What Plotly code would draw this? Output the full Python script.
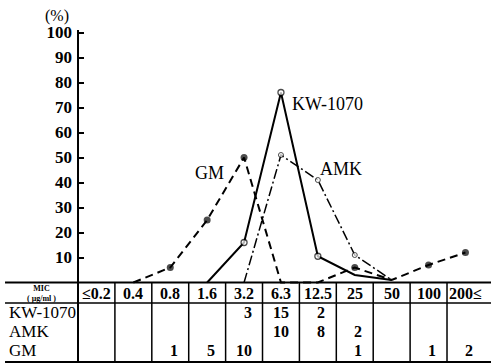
import plotly.graph_objects as go

# ---- data ----
categories = ["≤0.2", "0.4", "0.8", "1.6", "3.2", "6.3", "12.5", "25", "50", "100", "200≤"]

kw_cats = ["1.6", "3.2", "6.3", "12.5", "25", "50"]
kw_pct = [0, 16, 76, 10.5, 3, 1]

amk_cats = ["3.2", "6.3", "12.5", "25", "50"]
amk_pct = [0, 51, 41, 11, 1]

gm_cats = ["0.4", "0.8", "1.6", "3.2", "6.3", "12.5", "25", "50", "100", "200≤"]
gm_pct = [0, 6, 25, 50, 0, 0, 6, 1, 7, 12]

row_labels = ["KW-1070", "AMK", "GM"]
kw_counts = ["", "", "", "", "3", "15", "2", "", "", "", ""]
amk_counts = ["", "", "", "", "", "10", "8", "2", "", "", ""]
gm_counts = ["", "", "1", "5", "10", "", "", "1", "", "1", "2"]

y_ticks = [10, 20, 30, 40, 50, 60, 70, 80, 90, 100]

# ---- geometry helpers (axis units) ----
XR = [-2.614, 10.692]
YR = [-32.6, 113.0]
HDR_BOTTOM = -8.2
TBL_BOTTOM = -31.8
TBL_LEFT = -2.478
serif = "Liberation Serif, Times New Roman, serif"


def idx(cats):
    return [categories.index(c) for c in cats]


def msize(vals, s):
    return [s if v > 3 else 0 for v in vals]


def f(size, weight="bold"):
    return dict(family=serif, size=size, color="black", weight=weight)


fig = go.Figure()

fig.add_trace(go.Scatter(
    x=idx(gm_cats), y=gm_pct, mode="lines+markers",
    line=dict(color="black", width=2, dash="8px,5px"),
    marker=dict(color="black", size=msize(gm_pct, 7), line=dict(width=0)),
    showlegend=False, hoverinfo="skip"))

fig.add_trace(go.Scatter(
    x=idx(amk_cats), y=amk_pct, mode="lines+markers",
    line=dict(color="black", width=1.5, dash="10px,3px,2px,3px"),
    marker=dict(color="white", size=msize(amk_pct, 5),
                line=dict(color="black", width=1)),
    showlegend=False, hoverinfo="skip"))

fig.add_trace(go.Scatter(
    x=idx(kw_cats), y=kw_pct, mode="lines+markers",
    line=dict(color="black", width=2),
    marker=dict(color="white", size=msize(kw_pct, 6),
                line=dict(color="black", width=1.3)),
    showlegend=False, hoverinfo="skip"))

shapes = []
# y axis line
shapes.append(dict(type="line", xref="x", yref="y", x0=-0.5, x1=-0.5,
                   y0=TBL_BOTTOM, y1=101, line=dict(color="black", width=2)))
# horizontal table lines
for yy, w in [(0, 2), (HDR_BOTTOM, 1.5), (TBL_BOTTOM, 2)]:
    shapes.append(dict(type="line", xref="x", yref="y", x0=TBL_LEFT, x1=XR[1],
                       y0=yy, y1=yy, line=dict(color="black", width=w), layer="below"))
# vertical column separators
for i in range(len(categories) - 1):
    shapes.append(dict(type="line", xref="x", yref="y", x0=i + 0.5, x1=i + 0.5,
                       y0=0, y1=TBL_BOTTOM, line=dict(color="black", width=1.5), layer="below"))

ann = []
# header row
for i, c in enumerate(categories):
    ann.append(dict(x=i, y=-4.2, xref="x", yref="y", text=c, showarrow=False,
                    font=f(16)))
ann.append(dict(x=-1.5, y=-4.2, xref="x", yref="y",
                text="MIC<br>( μg/ml )", showarrow=False, font=f(8)))
# row labels and counts
row_y = [-11.8, -19.4, -27.0]
for lab, yy, counts in zip(row_labels, row_y, [kw_counts, amk_counts, gm_counts]):
    ann.append(dict(x=-2.43, y=yy, xref="x", yref="y", text=lab, showarrow=False,
                    xanchor="left", font=f(17, "normal")))
    for i, n in enumerate(counts):
        if n:
            ann.append(dict(x=i + 0.26, y=yy, xref="x", yref="y", text=n, showarrow=False,
                            xanchor="right", font=f(16)))
# series labels
for txt, xx, yy in [("KW-1070", 6.25, 71.4), ("AMK", 6.63, 45.4), ("GM", 3.05, 43.8)]:
    ann.append(dict(x=xx, y=yy, xref="x", yref="y", text=txt, showarrow=False,
                    font=f(18, "normal")))
# unit label
ann.append(dict(x=-1.07, y=106.6, xref="x", yref="y", text="(%)", showarrow=False,
                font=f(16, "normal")))

fig.update_layout(
    width=491, height=364,
    margin=dict(l=0, r=0, t=0, b=0),
    paper_bgcolor="white", plot_bgcolor="white",
    xaxis=dict(range=XR, visible=False),
    yaxis=dict(range=YR, anchor="free", position=78 / 491,
               tickvals=y_ticks, ticks="inside", ticklen=5, tickwidth=1.5,
               tickcolor="black", showline=False, showgrid=False, zeroline=False,
               ticklabelstandoff=6,
               tickfont=f(17)),
    shapes=shapes, annotations=ann,
)

fig.write_html("out.html")
